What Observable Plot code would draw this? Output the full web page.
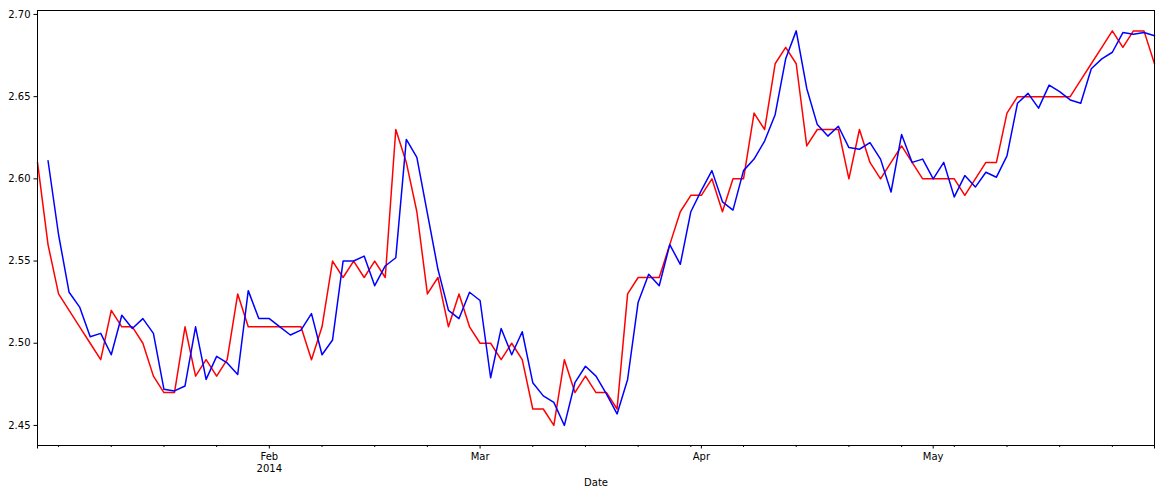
<!DOCTYPE html>
<html>
<head>
<meta charset="utf-8">
<script src="https://cdn.jsdelivr.net/npm/d3@7"></script>
<script src="https://cdn.jsdelivr.net/npm/@observablehq/plot@0.6"></script>
<style>
  html, body { margin: 0; padding: 0; background: #fff; }
  #chart svg { display: block; }
</style>
</head>
<body>
<div id="chart"></div>
<script>
// First business day of the series (business-day frequency, weekends skipped)
const startDate = "2014-01-02";

// Actual series (red), one value per business day from startDate
const actual = [
  2.61, 2.56, 2.53, 2.52, 2.51, 2.50, 2.49, 2.52, 2.51, 2.51,
  2.50, 2.48, 2.47, 2.47, 2.51, 2.48, 2.49, 2.48, 2.49, 2.53,
  2.51, 2.51, 2.51, 2.51, 2.51, 2.51, 2.49, 2.51, 2.55, 2.54,
  2.55, 2.54, 2.55, 2.54, 2.63, 2.61, 2.58, 2.53, 2.54, 2.51,
  2.53, 2.51, 2.50, 2.50, 2.49, 2.50, 2.49, 2.46, 2.46, 2.45,
  2.49, 2.47, 2.48, 2.47, 2.47, 2.46, 2.53, 2.54, 2.54, 2.54,
  2.56, 2.58, 2.59, 2.59, 2.60, 2.58, 2.60, 2.60, 2.64, 2.63,
  2.67, 2.68, 2.67, 2.62, 2.63, 2.63, 2.63, 2.60, 2.63, 2.61,
  2.60, 2.61, 2.62, 2.61, 2.60, 2.60, 2.60, 2.60, 2.59, 2.60,
  2.61, 2.61, 2.64, 2.65, 2.65, 2.65, 2.65, 2.65, 2.65, 2.66,
  2.67, 2.68, 2.69, 2.68, 2.69, 2.69, 2.67
];

// Predicted series (blue), begins one business day after startDate
const predictedOffset = 1;
const predicted = [
  2.611, 2.566, 2.531, 2.522, 2.504, 2.506, 2.493, 2.517, 2.509,
  2.515, 2.506, 2.472, 2.471, 2.474, 2.510, 2.478, 2.492, 2.488, 2.481,
  2.532, 2.515, 2.515, 2.510, 2.505, 2.508, 2.518, 2.493, 2.502, 2.550,
  2.550, 2.553, 2.535, 2.547, 2.552, 2.624, 2.613, 2.579, 2.545, 2.520,
  2.515, 2.531, 2.526, 2.479, 2.509, 2.493, 2.507, 2.476, 2.468, 2.464,
  2.450, 2.476, 2.486, 2.480, 2.469, 2.457, 2.478, 2.525, 2.542, 2.535,
  2.560, 2.548, 2.580, 2.593, 2.605, 2.586, 2.581, 2.605, 2.612, 2.623,
  2.639, 2.673, 2.690, 2.655, 2.633, 2.626, 2.632, 2.619, 2.618, 2.622,
  2.612, 2.592, 2.627, 2.610, 2.612, 2.600, 2.610, 2.589, 2.602, 2.595,
  2.604, 2.601, 2.614, 2.646, 2.652, 2.643, 2.657, 2.653, 2.648, 2.646,
  2.667, 2.673, 2.677, 2.689, 2.688, 2.689, 2.687
];

const yTicks = [2.45, 2.50, 2.55, 2.60, 2.65, 2.70];
const monthNames = ["Jan","Feb","Mar","Apr","May","Jun","Jul","Aug","Sep","Oct","Nov","Dec"];
const xLabel = "Date";

// Business-day calendar
const n = actual.length;
const dates = [];
{
  let d = new Date(startDate + "T00:00:00Z");
  while (dates.length < n) {
    const wd = d.getUTCDay();
    if (wd !== 0 && wd !== 6) dates.push(new Date(d));
    d = d3.utcDay.offset(d, 1);
  }
}

const actualData = actual.map((v, i) => ({i, v}));
const predData = predicted.map((v, k) => ({i: k + predictedOffset, v}));

// Ticks: major at month starts (plus the ends), minor on Mondays
const majorTicks = [];
const labels = new Map();
let yearShown = false;
for (let i = 0; i < n; i++) {
  if (i === 0 || i === n - 1) { majorTicks.push(i); continue; }
  if (dates[i].getUTCMonth() !== dates[i - 1].getUTCMonth()) {
    majorTicks.push(i);
    let s = monthNames[dates[i].getUTCMonth()];
    if (!yearShown) { s += "\n" + dates[i].getUTCFullYear(); yearShown = true; }
    labels.set(i, s);
  }
}
const minorTicks = [];
for (let i = 0; i < n; i++) {
  if (dates[i].getUTCDay() === 1 && !majorTicks.includes(i)) minorTicks.push(i);
}

const chart = Plot.plot({
  width: 1163,
  height: 495,
  marginLeft: 37,
  marginRight: 9,
  marginTop: 10,
  marginBottom: 50,
  style: {fontFamily: "DejaVu Sans", fontSize: "10px", background: "#fff", color: "#000", overflow: "visible"},
  x: {type: "linear", domain: [0, n - 1], axis: null},
  y: {domain: [2.4378, 2.7024], axis: null},
  marks: [
    Plot.line(actualData, {x: "i", y: "v", stroke: "#ff0000", strokeWidth: 1.5}),
    Plot.line(predData, {x: "i", y: "v", stroke: "#0000ff", strokeWidth: 1.5}),
    Plot.frame({stroke: "#000", strokeWidth: 1}),
    Plot.axisY({ticks: yTicks, tickFormat: d3.format(".2f"), tickSize: 3.5, tickPadding: 3.5, label: null}),
    Plot.axisX({ticks: minorTicks, tickSize: 2, tickFormat: () => "", label: null}),
    Plot.axisX({ticks: majorTicks, tickSize: 3.5, tickPadding: 3, tickFormat: i => labels.get(i) || "", lineHeight: 1.15,
                label: xLabel, labelAnchor: "center", labelOffset: 40, labelArrow: false})
  ]
});
document.getElementById("chart").appendChild(chart);
</script>
</body>
</html>
